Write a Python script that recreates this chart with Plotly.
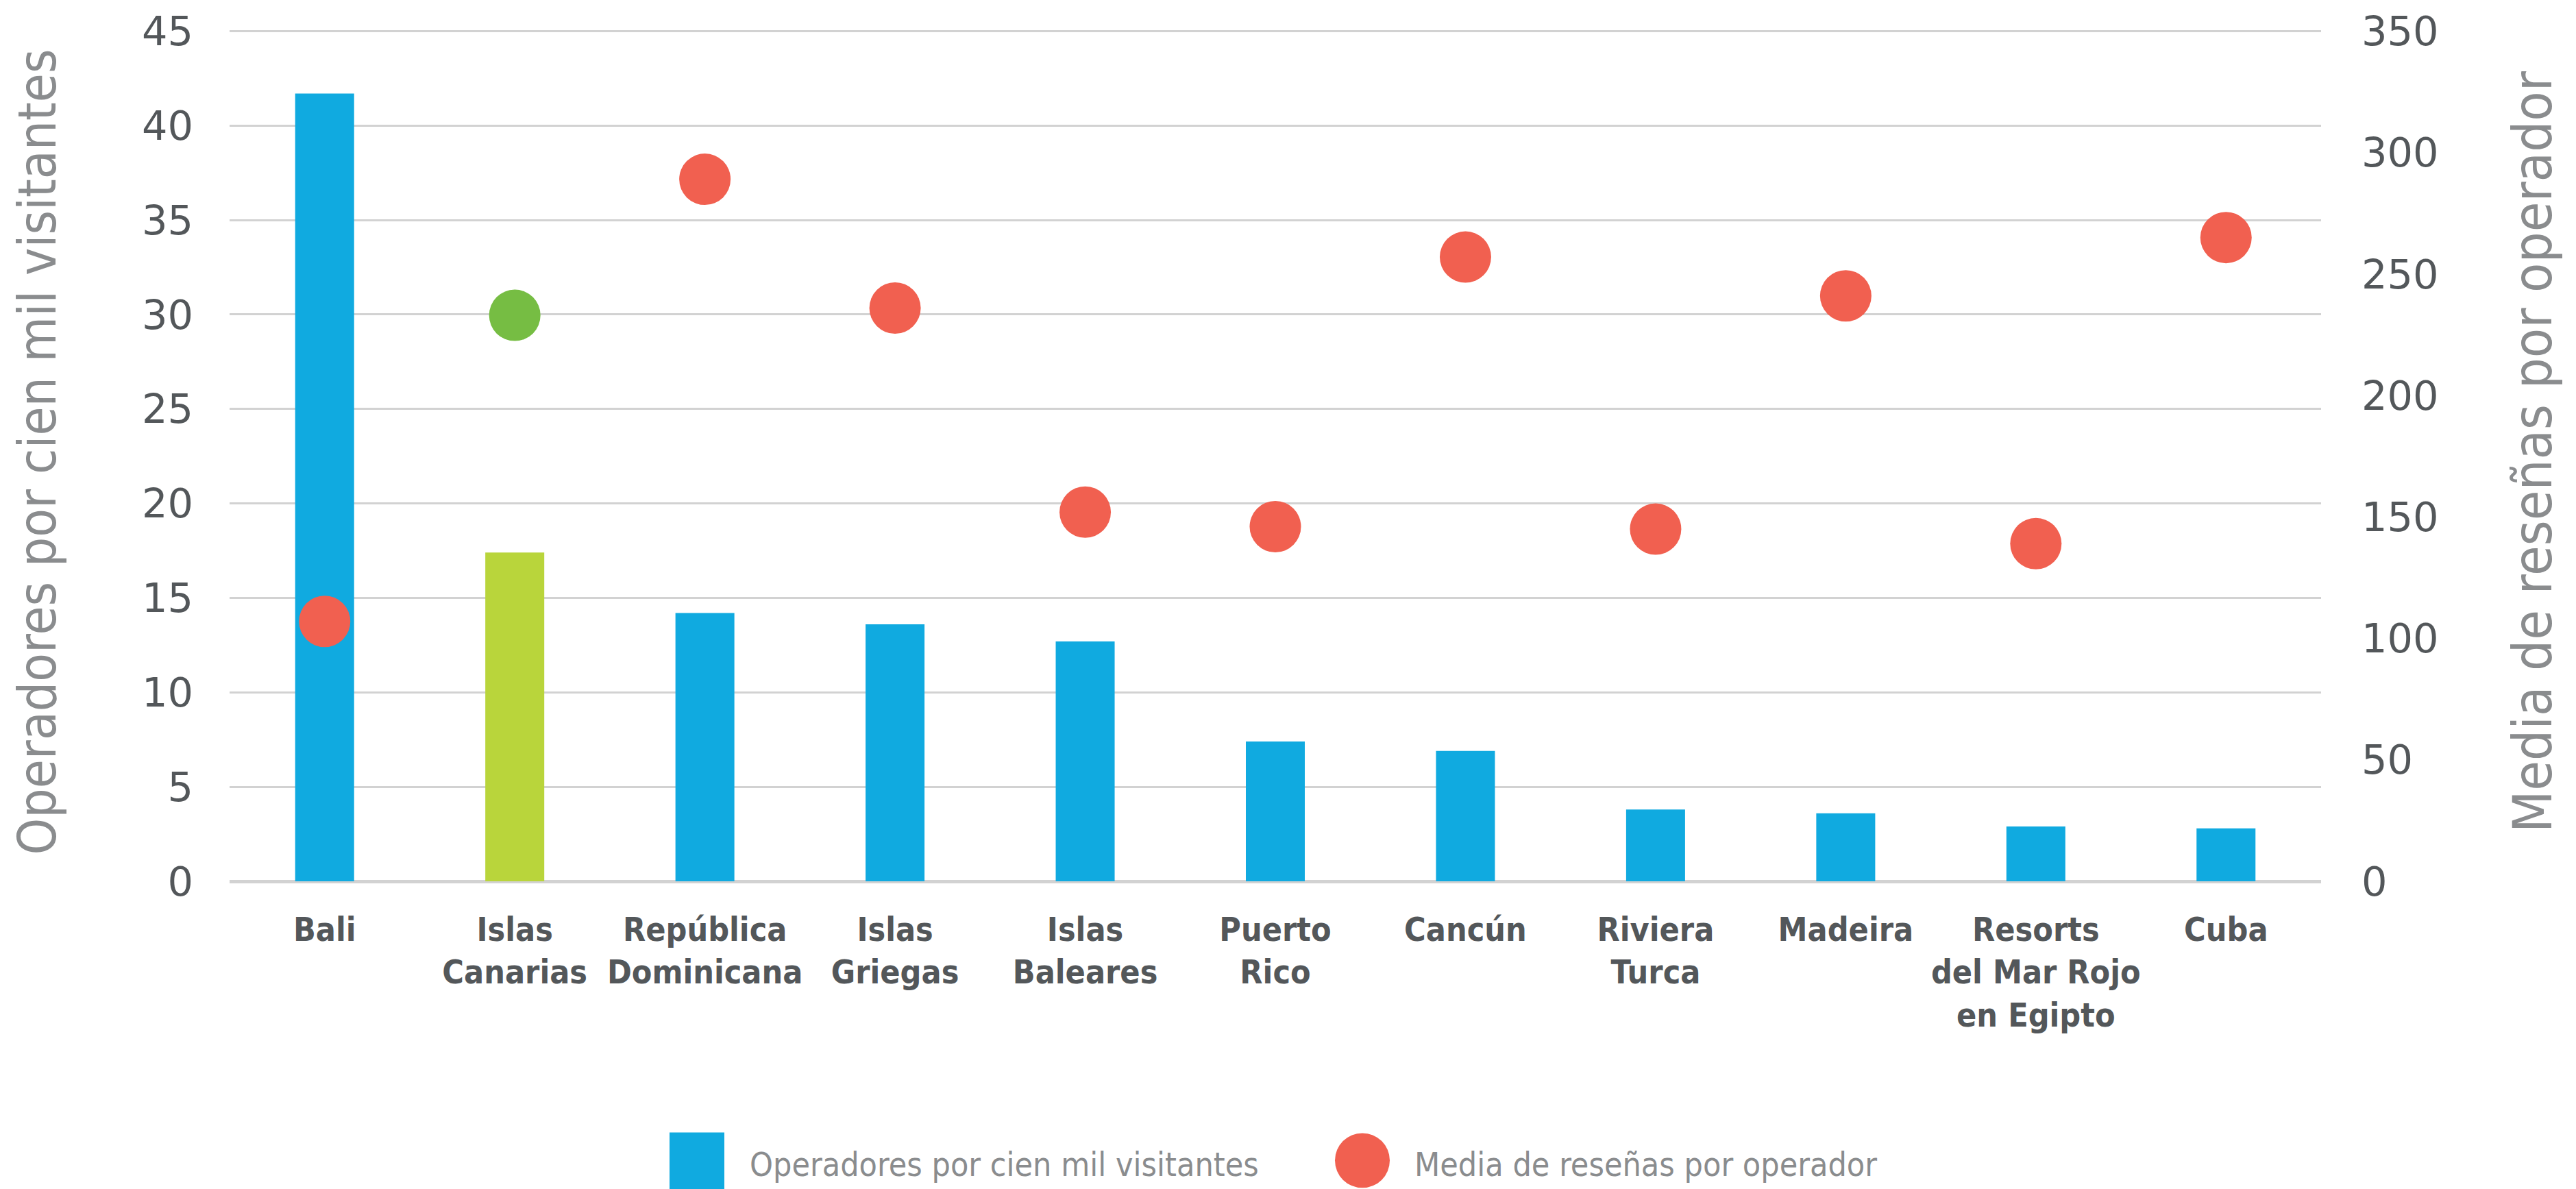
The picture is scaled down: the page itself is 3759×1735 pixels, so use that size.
import plotly.graph_objects as go

categories = ["Bali", "Islas<br>Canarias", "República<br>Dominicana", "Islas<br>Griegas",
              "Islas<br>Baleares", "Puerto<br>Rico", "Cancún", "Riviera<br>Turca", "Madeira",
              "Resorts<br>del Mar Rojo<br>en Egipto", "Cuba"]
operadores = [41.7, 17.4, 14.2, 13.6, 12.7, 7.4, 6.9, 3.8, 3.6, 2.9, 2.8]
resenas = [107, 233, 289, 236, 152, 146, 257, 145, 241, 139, 265]
highlight = "Islas<br>Canarias"

left_ticks = [0, 5, 10, 15, 20, 25, 30, 35, 40, 45]
right_ticks = [0, 50, 100, 150, 200, 250, 300, 350]

BLUE = "#10aae0"
LIME = "#b9d53b"
RED = "#f16050"
GREEN = "#76bd43"
TICK = "#53575a"
TITLE = "#8a8c8e"
GRID = "#d2d2d2"

# page body has an 8px default margin: figure is drawn at (8, 8)
OFF = 8
PAD = 1.01  # small headroom so the top gridline (45 / 350) is drawn
PX_PER_UNIT = (1286.5 - 45.5) / 45.0
W, H = 3759 - OFF, 1735 - OFF
L, R = 335 - OFF, 372
T = 45.5 - OFF - 45 * (PAD - 1) * PX_PER_UNIT
B = H - (1286.5 - OFF)

bar_colors = [LIME if c == highlight else BLUE for c in categories]
dot_colors = [GREEN if c == highlight else RED for c in categories]

NARROW = "Liberation Sans Narrow, DejaVu Sans Condensed, Roboto, sans-serif"
GEO = "DejaVu Sans, sans-serif"

fig = go.Figure()
fig.add_trace(go.Bar(x=categories, y=operadores, marker=dict(color=bar_colors, line_width=0),
                     width=0.31, name="Operadores por cien mil visitantes", yaxis="y"))
fig.add_trace(go.Scatter(x=categories, y=resenas, mode="markers",
                         marker=dict(color=dot_colors, size=75, line_width=0),
                         name="Media de reseñas por operador", yaxis="y2"))

fig.update_layout(
    width=W, height=H,
    margin=dict(l=L, r=R, t=T, b=B, autoexpand=False),
    paper_bgcolor="white", plot_bgcolor="white",
    showlegend=False,
    xaxis=dict(type="category", range=[-0.5, 10.5], showgrid=False, showline=False,
               zeroline=False, ticks="", ticklabelstandoff=38, automargin=False,
               tickfont=dict(family=NARROW, size=48, color=TICK, weight="bold")),
    yaxis=dict(range=[0, 45 * PAD], tickvals=left_ticks, showgrid=True, gridcolor=GRID,
               gridwidth=3, zeroline=True, zerolinecolor=GRID, zerolinewidth=5, showline=False,
               ticks="", ticklabelstandoff=52, automargin=False,
               tickfont=dict(family=GEO, size=59, color=TICK),
               title=dict(text="Operadores por cien mil visitantes", standoff=100,
                          font=dict(family=NARROW, size=76, color=TITLE))),
    yaxis2=dict(range=[0, 350 * PAD], tickvals=right_ticks, overlaying="y", side="right",
                showgrid=False, zeroline=False, showline=False, ticks="", ticklabelstandoff=58,
                automargin=False,
                tickfont=dict(family=GEO, size=59, color=TICK),
                title=dict(text="Media de reseñas por operador", standoff=110,
                           font=dict(family=NARROW, size=79, color=TITLE))),
)

# custom legend (paper coordinates, from page pixels)
pw = W - L - R
ph = H - T - B
def px(x):
    return (x - OFF - L) / pw
def py(y):
    return (H - B - (y - OFF)) / ph

fig.add_shape(type="rect", xref="paper", yref="paper", x0=px(977), x1=px(1057),
              y0=py(1740), y1=py(1653), fillcolor=BLUE, line_width=0)
fig.add_shape(type="circle", xref="paper", yref="paper", x0=px(1948), x1=px(2028),
              y0=py(1734), y1=py(1654), fillcolor=RED, line_width=0)
fig.add_annotation(xref="paper", yref="paper", x=px(1092), y=py(1700), xanchor="left",
                   yanchor="middle", showarrow=False, text="Operadores por cien mil visitantes",
                   font=dict(family=NARROW, size=48, color=TITLE))
fig.add_annotation(xref="paper", yref="paper", x=px(2062), y=py(1700), xanchor="left",
                   yanchor="middle", showarrow=False, text="Media de reseñas por operador",
                   font=dict(family=NARROW, size=48, color=TITLE))

fig.write_html("out.html")
